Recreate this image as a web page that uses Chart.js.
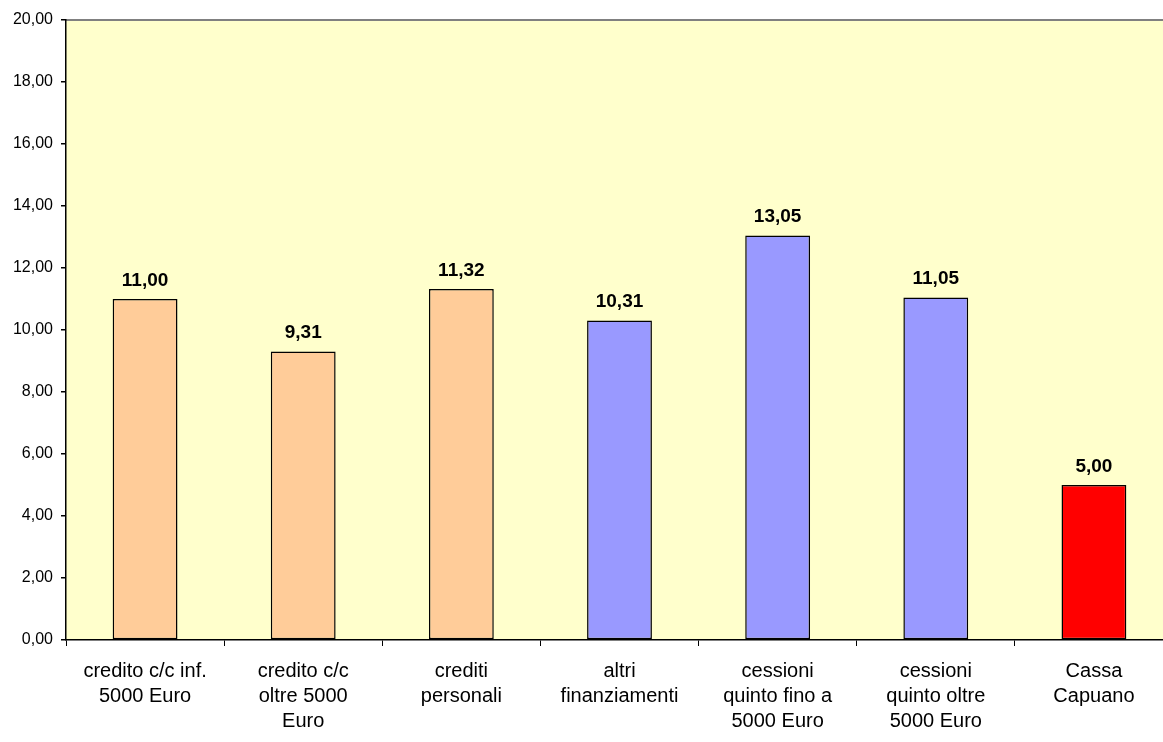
<!DOCTYPE html>
<html>
<head>
<meta charset="utf-8">
<script src="https://cdn.jsdelivr.net/npm/chart.js@4/dist/chart.umd.min.js"></script>
<style>
  html, body { margin: 0; padding: 0; background: #fff; overflow: hidden; }
  #wrap { width: 1174px; height: 742px; position: relative; }
</style>
</head>
<body>
<div id="wrap"><canvas id="tassiChart"></canvas></div>
<script>
// Categorie e valori
const categorie = [
    ['credito c/c inf.', '5000 Euro'],
    ['credito c/c', 'oltre 5000', 'Euro'],
    ['crediti', 'personali'],
    ['altri', 'finanziamenti'],
    ['cessioni', 'quinto fino a', '5000 Euro'],
    ['cessioni', 'quinto oltre', '5000 Euro'],
    ['Cassa', 'Capuano']
];
const tassi = [11.00, 9.31, 11.32, 10.31, 13.05, 11.05, 5.00];
const colori = ['#FFCC99', '#FFCC99', '#FFCC99', '#9999FF', '#9999FF', '#9999FF', '#FF0000'];

const virgola = v => v.toFixed(2).replace('.', ',');
const font = '"Liberation Sans", Arial, sans-serif';

// Sfondo dell'area del grafico
const sfondo = {
    id: 'sfondo',
    beforeDraw(chart) {
        const { ctx, chartArea: a } = chart;
        ctx.save();
        ctx.fillStyle = '#FFFFCC';
        ctx.fillRect(a.left, a.top, a.right - a.left, a.bottom - a.top);
        ctx.strokeStyle = '#808080';
        ctx.lineWidth = 2;
        ctx.beginPath();
        ctx.moveTo(a.left, a.top);
        ctx.lineTo(a.right, a.top);
        ctx.stroke();
        ctx.restore();
    }
};

// Etichette sopra le barre
const etichette = {
    id: 'etichette',
    afterDatasetsDraw(chart) {
        const { ctx } = chart;
        const meta = chart.getDatasetMeta(0);
        ctx.save();
        ctx.font = 'bold 19px ' + font;
        ctx.fillStyle = '#000';
        ctx.textAlign = 'center';
        ctx.textBaseline = 'alphabetic';
        meta.data.forEach((bar, i) => {
            ctx.fillText(virgola(tassi[i]), bar.x, bar.y - 13);
        });
        ctx.restore();
    }
};

const ctx = document.getElementById('tassiChart').getContext('2d');
new Chart(ctx, {
    type: 'bar',
    data: {
        labels: categorie,
        datasets: [{
            data: tassi,
            backgroundColor: colori,
            borderColor: '#000',
            borderWidth: 1.5,
            borderSkipped: false,
            categoryPercentage: 1,
            barPercentage: 0.41
        }]
    },
    options: {
        responsive: true,
        maintainAspectRatio: false,
        animation: false,
        layout: { padding: { top: 20, right: 1, left: 0, bottom: 0 } },
        scales: {
            y: {
                min: 0,
                max: 20,
                ticks: {
                    stepSize: 2,
                    color: '#000',
                    padding: 8,
                    font: { family: font, size: 16 },
                    callback: v => virgola(v)
                },
                grid: { drawOnChartArea: false, tickLength: 5, color: '#000', lineWidth: 1.5 },
                border: { color: '#000', width: 1.5 },
                afterFit: s => { s.width = 66; }
            },
            x: {
                ticks: {
                    color: '#000',
                    padding: 13,
                    maxRotation: 0,
                    autoSkip: false,
                    font: { family: font, size: 20, lineHeight: 1.25 }
                },
                grid: { offset: true, drawOnChartArea: false, tickLength: 6, color: '#000' },
                border: { color: '#000', width: 1.5 },
                afterFit: s => { s.height = 102; }
            }
        },
        plugins: {
            legend: { display: false },
            tooltip: { enabled: false }
        }
    },
    plugins: [sfondo, etichette]
});
</script>
</body>
</html>
